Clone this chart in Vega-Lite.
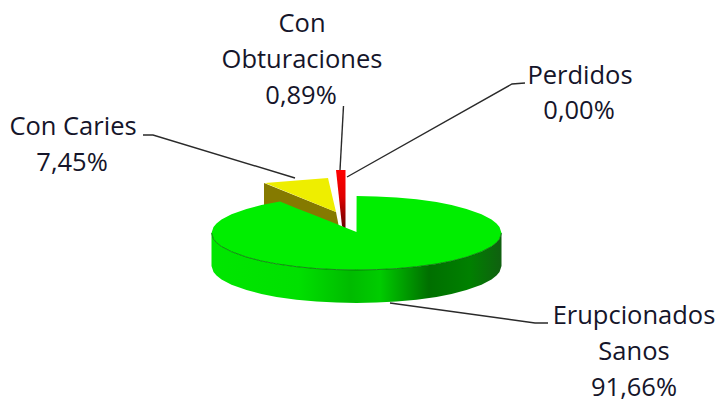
{"$schema":"https://vega.github.io/schema/vega-lite/v6.json","width":719,"height":402,"padding":0,"autosize":{"type":"none"},"background":"white","view":{"stroke":null},
"datasets":{
"olive":[{"x":-92.5,"y":50,"y2":27},{"x":-20.5,"y":21,"y2":5},{"x":-18,"y":8,"y2":5}],
"yellow":[{"x":-91.5,"y":50,"y2":50},{"x":-28.5,"y":55,"y2":24.3},{"x":-20.5,"y":21,"y2":21}],
"red":[{"x":-20.5,"y":63,"y2":63},{"x":-14.5,"y":63,"y2":7},{"x":-11,"y":63,"y2":3}],
"side":[{"x":-145,"y":0,"y2":-33},{"x":-143,"y":-6.1,"y2":-39.1},{"x":-140,"y":-9.6,"y2":-42.6},{"x":-135,"y":-13.5,"y2":-46.5},{"x":-125,"y":-18.7,"y2":-51.7},{"x":-110,"y":-24.1,"y2":-57.1},{"x":-95,"y":-28,"y2":-61},{"x":-80,"y":-30.9,"y2":-63.9},{"x":-60,"y":-33.7,"y2":-66.7},{"x":-40,"y":-35.6,"y2":-68.6},{"x":-20,"y":-36.6,"y2":-69.6},{"x":0,"y":-37,"y2":-70},{"x":20,"y":-36.6,"y2":-69.6},{"x":40,"y":-35.6,"y2":-68.6},{"x":60,"y":-33.7,"y2":-66.7},{"x":80,"y":-30.9,"y2":-63.9},{"x":95,"y":-28,"y2":-61},{"x":110,"y":-24.1,"y2":-57.1},{"x":125,"y":-18.7,"y2":-51.7},{"x":135,"y":-13.5,"y2":-46.5},{"x":140,"y":-9.6,"y2":-42.6},{"x":143,"y":-6.1,"y2":-39.1},{"x":145,"y":0,"y2":-33}],
"top":[{"x":-145,"y":0,"y2":0},{"x":-143,"y":6.1,"y2":-6.1},{"x":-140,"y":9.6,"y2":-9.6},{"x":-135,"y":13.5,"y2":-13.5},{"x":-125,"y":18.7,"y2":-18.7},{"x":-110,"y":24.1,"y2":-24.1},{"x":-95,"y":28,"y2":-28},{"x":-76.5,"y":31.4,"y2":-31.4},{"x":-60,"y":24.8,"y2":-33.7},{"x":-40,"y":16.9,"y2":-35.6},{"x":-20,"y":8.9,"y2":-36.6},{"x":0,"y":1,"y2":-37},{"x":0.1,"y":37,"y2":-37},{"x":20,"y":36.6,"y2":-36.6},{"x":40,"y":35.6,"y2":-35.6},{"x":60,"y":33.7,"y2":-33.7},{"x":80,"y":30.9,"y2":-30.9},{"x":95,"y":28,"y2":-28},{"x":110,"y":24.1,"y2":-24.1},{"x":125,"y":18.7,"y2":-18.7},{"x":135,"y":13.5,"y2":-13.5},{"x":140,"y":9.6,"y2":-9.6},{"x":143,"y":6.1,"y2":-6.1},{"x":145,"y":0,"y2":0}],
"leaders":[{"s":"Con Caries","i":0,"x":-213.5,"y":98},{"s":"Con Caries","i":1,"x":-203.5,"y":98},{"s":"Con Caries","i":2,"x":-61.5,"y":55},{"s":"Con Obturaciones","i":0,"x":-13,"y":127},{"s":"Con Obturaciones","i":1,"x":-16.5,"y":63},{"s":"Perdidos","i":0,"x":168.5,"y":150},{"s":"Perdidos","i":1,"x":155.5,"y":149},{"s":"Perdidos","i":2,"x":-9.5,"y":56},{"s":"Erupcionados Sanos","i":0,"x":191.5,"y":-90},{"s":"Erupcionados Sanos","i":1,"x":178.5,"y":-90},{"s":"Erupcionados Sanos","i":2,"x":33.5,"y":-70}],
"labels":[{"t":"Con","x":-54.5,"y":209},{"t":"Obturaciones","x":-54.5,"y":173},{"t":"0,89%","x":-55.5,"y":137},{"t":"Perdidos","x":223.5,"y":157},{"t":"0,00%","x":222.5,"y":122},{"t":"Con Caries","x":-283.5,"y":106},{"t":"7,45%","x":-284.5,"y":70},{"t":"Erupcionados","x":277.5,"y":-83},{"t":"Sanos","x":277.5,"y":-119},{"t":"91,66%","x":277.5,"y":-155}]
},
"encoding":{
"x":{"field":"x","type":"quantitative","axis":null,"scale":{"domain":[-356.5,362.5],"nice":false,"zero":false}},
"y":{"field":"y","type":"quantitative","axis":null,"scale":{"domain":[-169,233],"nice":false,"zero":false}}
},
"layer":[
{"data":{"name":"leaders"},"mark":{"type":"line","color":"#2a2a2a","strokeWidth":1.4},"encoding":{"detail":{"field":"s"},"order":{"field":"i"}}},
{"data":{"name":"olive"},"mark":{"type":"area","color":"#857a00"},"encoding":{"y2":{"field":"y2"}}},
{"data":{"name":"yellow"},"mark":{"type":"area","color":"#eeee00"},"encoding":{"y2":{"field":"y2"}}},
{"data":{"name":"red"},"mark":{"type":"area","color":{"gradient":"linear","x1":0,"y1":0,"x2":0,"y2":1,"stops":[{"offset":0,"color":"#ff0000"},{"offset":0.45,"color":"#e00000"},{"offset":1,"color":"#600000"}]}},"encoding":{"y2":{"field":"y2"}}},
{"data":{"name":"side"},"mark":{"type":"area","color":{"gradient":"linear","x1":0,"y1":0,"x2":1,"y2":0,"stops":[{"offset":0,"color":"#00e600"},{"offset":0.3,"color":"#00e000"},{"offset":0.48,"color":"#00bb00"},{"offset":0.58,"color":"#00cc00"},{"offset":0.75,"color":"#006f00"},{"offset":0.89,"color":"#008000"},{"offset":1,"color":"#106010"}]}},"encoding":{"y2":{"field":"y2"}}},
{"data":{"name":"top"},"mark":{"type":"area","color":"#00ee00"},"encoding":{"y2":{"field":"y2"}}},
{"data":{"name":"side"},"mark":{"type":"line","color":"#0a5a0a","strokeWidth":1,"opacity":0.7}},
{"data":{"name":"labels"},"mark":{"type":"text","font":"Open Sans","fontSize":25.5,"color":"#15152a","baseline":"middle","align":"center"},"encoding":{"text":{"field":"t"}}}
]}
